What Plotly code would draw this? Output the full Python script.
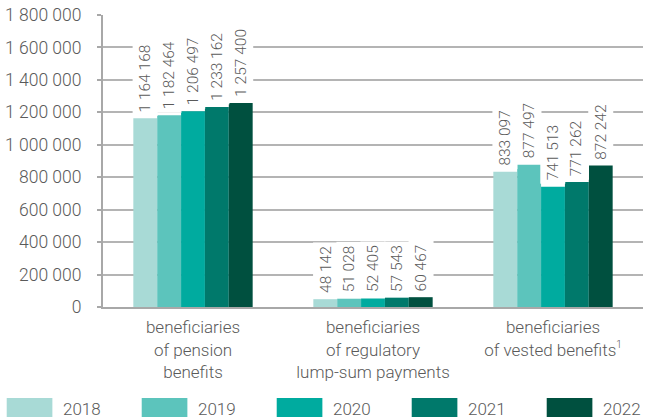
import plotly.graph_objects as go

categories = ["beneficiaries<br>of pension<br>benefits",
              "beneficiaries<br>of regulatory<br>lump-sum payments",
              "beneficiaries<br>of vested benefits<sup><span style='font-size:10px'>1</span></sup>"]
years = ["2018", "2019", "2020", "2021", "2022"]
values = {
    "2018": [1164168, 48142, 833097],
    "2019": [1182464, 51028, 877497],
    "2020": [1206497, 52405, 741513],
    "2021": [1233162, 57543, 771262],
    "2022": [1257400, 60467, 872242],
}
colors = ["#a8dad6", "#5cc4bc", "#00ab9f", "#00796b", "#00503f"]
yticks = [0, 200000, 400000, 600000, 800000, 1000000, 1200000, 1400000, 1600000, 1800000]
yticklabels = ["0", "200 000", "400 000", "600 000", "800 000", "1 000 000",
               "1 200 000", "1 400 000", "1 600 000", "1 800 000"]

W, H = 648, 417
ML, MR, MT, MB = 99, 5, 15, 110
PW, PH = W - ML - MR, H - MT - MB
BARGAP = 0.337
FONT = "Roboto"
TXT = "#5a5a5a"

def fmt(v):
    return f"{v:,}".replace(",", " ")

xs = list(range(len(categories)))
bw = (1 - BARGAP) / len(years)

fig = go.Figure()
for j, y in enumerate(years):
    fig.add_trace(go.Bar(x=xs, y=values[y], name=y, marker_color=colors[j],
                         marker_line_width=0, showlegend=False))
    for i, v in enumerate(values[y]):
        fig.add_annotation(x=i + (j - (len(years) - 1) / 2) * bw, y=v, xref="x", yref="y",
                           text=fmt(v), textangle=-90, showarrow=False,
                           yanchor="bottom", yshift=2, bgcolor="white", borderpad=3,
                           font=dict(family=FONT, size=15.5, color=TXT, weight=300))

# manual legend with wide swatches
def px2x(p):
    return (p - ML) / PW

def py2y(p):
    return (H - MB - p) / PH

for j, y in enumerate(years):
    x0 = 2 + j * 136
    fig.add_shape(type="rect", xref="paper", yref="paper",
                  x0=px2x(x0), x1=px2x(x0 + 46), y0=py2y(398), y1=py2y(418),
                  fillcolor=colors[j], line_width=0)
    fig.add_annotation(xref="paper", yref="paper", x=px2x(x0 + 55), y=py2y(409),
                       xanchor="left", yanchor="middle", text=y, showarrow=False,
                       font=dict(family=FONT, size=17, color=TXT, weight=300))

fig.update_layout(
    autosize=True, margin=dict(l=ML, r=MR, t=MT, b=MB),
    paper_bgcolor="white", plot_bgcolor="white",
    barmode="group", bargap=BARGAP, bargroupgap=0,
    font=dict(family=FONT, size=17, color=TXT, weight=300),
    xaxis=dict(range=[-0.5, 2.5], tickvals=xs, ticktext=categories,
               showgrid=False, showline=True, linecolor="#a8a8a8", linewidth=2,
               ticks="", ticklabelstandoff=4, tickfont=dict(size=17, color=TXT, weight=300),
               zeroline=False, fixedrange=True),
    yaxis=dict(range=[0, 1800000], tickvals=yticks, ticktext=yticklabels,
               showgrid=True, gridcolor="#b4b4b4", gridwidth=1.5,
               showline=True, linecolor="#a8a8a8", linewidth=2,
               ticks="outside", ticklen=4, tickcolor="#a8a8a8", tickwidth=1.5,
               ticklabelstandoff=12, zeroline=False,
               tickfont=dict(size=17.5, color=TXT, weight=300)),
)

fig.write_html("out.html", config={"displayModeBar": False},
               default_width=f"{W}px",
               default_height=f"{H}px;position:absolute;left:0;top:0;margin:0",
               post_script="document.body.style.margin='0';document.body.style.padding='0';")
